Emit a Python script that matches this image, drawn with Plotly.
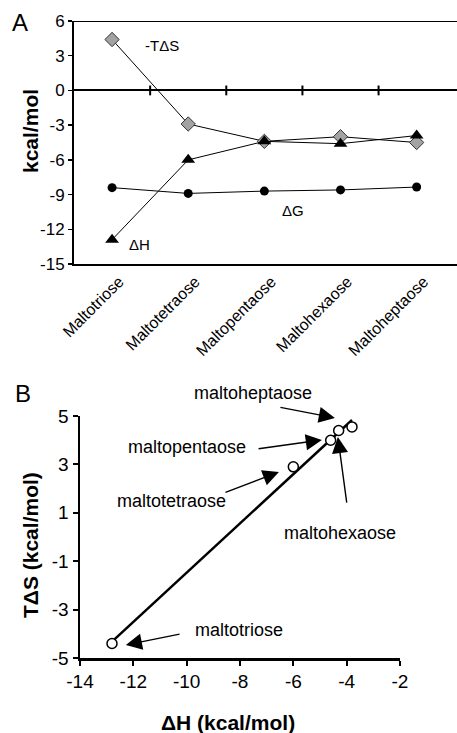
import numpy as np
import plotly.graph_objects as go

# ---------------- data ----------------
categories = ["Maltotriose", "Maltotetraose", "Maltopentaose", "Maltohexaose", "Maltoheptaose"]
neg_TdS = [4.4, -2.9, -4.4, -4.0, -4.5]
dH = [-12.9, -6.0, -4.4, -4.6, -3.9]
dG = [-8.4, -8.9, -8.7, -8.6, -8.35]
yticks_a = [-15, -12, -9, -6, -3, 0, 3, 6]

names_b = ["maltotriose", "maltotetraose", "maltopentaose", "maltohexaose", "maltoheptaose"]
dH_b = [-12.8, -6.0, -4.6, -4.3, -3.8]
TdS_b = [-4.4, 2.9, 4.0, 4.4, 4.55]
xticks_b = [-14, -12, -10, -8, -6, -4, -2]
yticks_b = [-5, -3, -1, 1, 3, 5]

# annotation label positions / arrow tails / arrow heads (data coords, panel B)
lab_xy = {"maltoheptaose": (-7.5, 5.95), "maltopentaose": (-10.0, 3.72),
          "maltotetraose": (-10.55, 1.49), "maltohexaose": (-4.25, 0.17),
          "maltotriose": (-8.05, -3.84)}
arrow_tail = {"maltoheptaose": (-6.54, 5.37), "maltopentaose": (-7.36, 3.64),
              "maltotetraose": (-8.6, 1.82), "maltohexaose": (-3.99, 1.36),
              "maltotriose": (-10.21, -4.0)}
arrow_head = {"maltoheptaose": (-4.44, 4.92), "maltopentaose": (-4.93, 4.01),
              "maltotetraose": (-6.54, 2.69), "maltohexaose": (-4.33, 4.13),
              "maltotriose": (-12.28, -4.46)}

FONT = "Arial, Liberation Sans, Helvetica, sans-serif"
W, H = 457, 733
XR_B = [-14, -2]
YR_B = [-5, 5]

xpos = list(range(len(categories)))
boundaries = [i + 0.5 for i in range(len(categories) - 1)]

fig = go.Figure()

# ---- Panel A ----
line_style = dict(color="black", width=1)
fig.add_trace(go.Scatter(x=xpos, y=neg_TdS, mode="lines+markers", xaxis="x", yaxis="y",
                         line=line_style,
                         marker=dict(symbol="diamond", size=11, color="#a3a3a3",
                                     line=dict(color="#333333", width=1)),
                         showlegend=False))
fig.add_trace(go.Scatter(x=xpos, y=dH, mode="lines+markers", xaxis="x", yaxis="y",
                         line=line_style,
                         marker=dict(symbol="triangle-up", size=12, color="black"),
                         showlegend=False))
fig.add_trace(go.Scatter(x=xpos, y=dG, mode="lines+markers", xaxis="x", yaxis="y",
                         line=line_style,
                         marker=dict(symbol="circle", size=9, color="black"),
                         showlegend=False))
# tick marks on zero line between categories
fig.add_trace(go.Scatter(x=boundaries, y=[0] * len(boundaries), mode="markers",
                         xaxis="x", yaxis="y",
                         marker=dict(symbol="line-ns", size=7,
                                     line=dict(color="black", width=2)),
                         showlegend=False, hoverinfo="skip"))

# ---- Panel B ----
slope, intercept = np.polyfit(dH_b, TdS_b, 1)
fit_x = np.array([min(dH_b), max(dH_b)])
fit_y = slope * fit_x + intercept
fig.add_trace(go.Scatter(x=fit_x, y=fit_y, mode="lines", xaxis="x2", yaxis="y2",
                         line=dict(color="black", width=2.5), showlegend=False))
fig.add_trace(go.Scatter(x=dH_b, y=TdS_b, mode="markers", xaxis="x2", yaxis="y2",
                         marker=dict(symbol="circle", size=10, color="white",
                                     line=dict(color="black", width=1.5)),
                         showlegend=False))

C = dict(xanchor="center", yanchor="middle")
annotations = []
# panel labels
annotations.append(dict(text="A", x=20 / W, y=1 - 23 / H, xref="paper", yref="paper",
                        showarrow=False, font=dict(size=24, family=FONT, color="black"), **C))
annotations.append(dict(text="B", x=23 / W, y=1 - 393 / H, xref="paper", yref="paper",
                        showarrow=False, font=dict(size=24, family=FONT, color="black"), **C))
# axis titles
annotations.append(dict(text="<b>kcal/mol</b>", x=30 / W, y=1 - 131 / H, xref="paper",
                        yref="paper", textangle=-90, showarrow=False,
                        font=dict(size=21, family=FONT, color="black"), **C))
annotations.append(dict(text="<b>TΔS (kcal/mol)</b>", x=30 / W, y=1 - 545 / H, xref="paper",
                        yref="paper", textangle=-90, showarrow=False,
                        font=dict(size=21, family=FONT, color="black"), **C))
annotations.append(dict(text="<b>ΔH (kcal/mol)</b>", x=228 / W, y=1 - 722 / H, xref="paper",
                        yref="paper", showarrow=False,
                        font=dict(size=21, family=FONT, color="black"), **C))
# series labels panel A
for txt, xx, yy in [("-TΔS", 0.66, 3.9), ("ΔG", 2.38, -10.4), ("ΔH", 0.36, -13.3)]:
    annotations.append(dict(text=txt, x=xx, y=yy, xref="x", yref="y", showarrow=False,
                            font=dict(size=15, family=FONT, color="black"), **C))
# panel B labels and arrows (labels in axis-domain units so they may sit outside the range)
for n in names_b:
    lx, ly = lab_xy[n]
    annotations.append(dict(text=n,
                            x=(lx - XR_B[0]) / (XR_B[1] - XR_B[0]),
                            y=(ly - YR_B[0]) / (YR_B[1] - YR_B[0]),
                            xref="x2 domain", yref="y2 domain", showarrow=False,
                            font=dict(size=18, family=FONT, color="black"), **C))
    tx, ty = arrow_tail[n]
    hx, hy = arrow_head[n]
    annotations.append(dict(text="", x=hx, y=hy, ax=tx, ay=ty, xref="x2", yref="y2",
                            axref="x2", ayref="y2", showarrow=True, arrowhead=2,
                            arrowsize=2.3, arrowwidth=1.4, arrowcolor="black",
                            standoff=0, startstandoff=0))

shapes = [dict(type="line", xref="x domain", yref="y", x0=0, x1=1, y0=6, y1=6,
               line=dict(color="black", width=2))]

fig.update_layout(
    width=W, height=H,
    margin=dict(l=0, r=0, t=0, b=0, autoexpand=False),
    paper_bgcolor="white", plot_bgcolor="white",
    font=dict(family=FONT, color="black"),
    hovermode=False,
    xaxis=dict(domain=[74 / W, 1.0], range=[-0.5, 4.53], tickmode="array",
               tickvals=xpos, ticktext=categories, tickangle=-45, ticks="",
               showline=True, linecolor="black", linewidth=2, showgrid=False,
               zeroline=False, tickfont=dict(size=16, family=FONT), anchor="y",
               automargin=False, ticklabelshift=7),
    yaxis=dict(domain=[1 - 264 / H, 1 - 21 / H], range=[-15, 6], tickmode="array",
               tickvals=yticks_a, ticktext=[str(v) for v in yticks_a],
               ticks="outside", ticklen=4, tickwidth=1.5,
               tickcolor="black", showline=True, linecolor="black", linewidth=2,
               showgrid=False, zeroline=True, zerolinecolor="black", zerolinewidth=2,
               tickfont=dict(size=17, family=FONT), anchor="x", automargin=False),
    xaxis2=dict(domain=[80 / W, 400 / W], range=XR_B, tickmode="array",
                tickvals=xticks_b, ticktext=[str(v) for v in xticks_b],
                ticks="outside", ticklen=5, tickwidth=2,
                tickcolor="black", showline=True, linecolor="black", linewidth=2.5,
                showgrid=False, zeroline=False, tickfont=dict(size=19, family=FONT),
                anchor="y2", automargin=False),
    yaxis2=dict(domain=[1 - 658 / H, 1 - 416 / H], range=YR_B, tickmode="array",
                tickvals=yticks_b, ticktext=[str(v) for v in yticks_b],
                ticks="outside", ticklen=5, tickwidth=2,
                tickcolor="black", showline=True, linecolor="black", linewidth=2.5,
                showgrid=False, zeroline=False, tickfont=dict(size=19, family=FONT),
                anchor="x2", automargin=False),
    annotations=annotations,
    shapes=shapes,
)

fig.write_html("out.html", config={"displayModeBar": False, "staticPlot": True},
               post_script="document.body.style.margin='0';document.body.style.padding='0';")
